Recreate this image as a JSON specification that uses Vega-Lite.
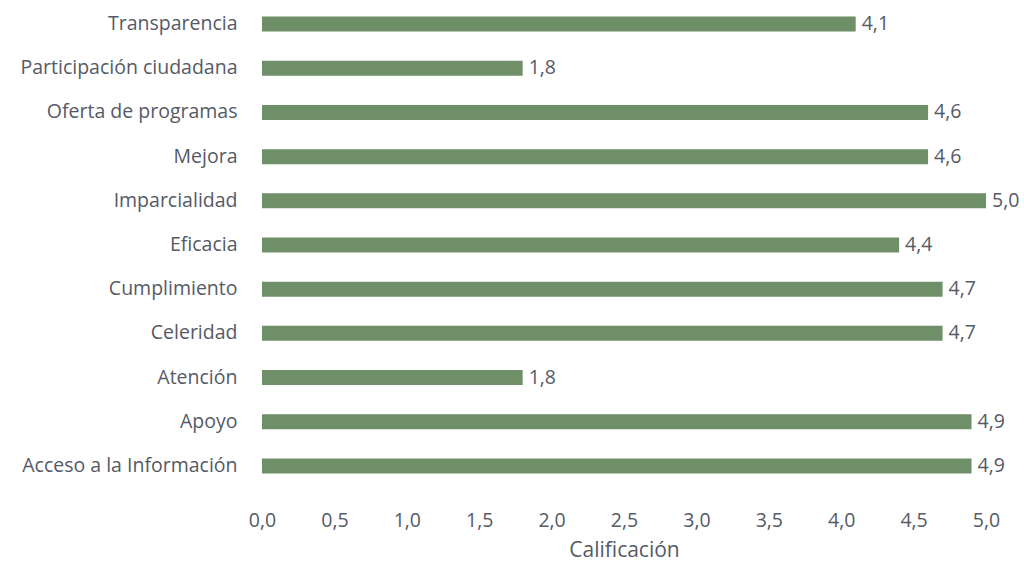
{
  "$schema": "https://vega.github.io/schema/vega-lite/v6.json",
  "width": 724,
  "height": 486,
  "autosize": "none",
  "padding": {"left": 262, "top": 2, "right": 38, "bottom": 75},
  "background": "white",
  "config": {
    "view": {"stroke": null},
    "locale": {"number": {"decimal": ",", "thousands": ".", "grouping": [3], "currency": ["", " €"]}},
    "font": "Open Sans"
  },
  "data": {
    "values": [
      {"criterio": "Transparencia", "calificacion": 4.1},
      {"criterio": "Participación ciudadana", "calificacion": 1.8},
      {"criterio": "Oferta de programas", "calificacion": 4.6},
      {"criterio": "Mejora", "calificacion": 4.6},
      {"criterio": "Imparcialidad", "calificacion": 5.0},
      {"criterio": "Eficacia", "calificacion": 4.4},
      {"criterio": "Cumplimiento", "calificacion": 4.7},
      {"criterio": "Celeridad", "calificacion": 4.7},
      {"criterio": "Atención", "calificacion": 1.8},
      {"criterio": "Apoyo", "calificacion": 4.9},
      {"criterio": "Acceso a la Información", "calificacion": 4.9}
    ]
  },
  "encoding": {
    "y": {
      "field": "criterio", "type": "nominal", "sort": null,
      "scale": {"paddingInner": 0.66, "paddingOuter": 0.33},
      "axis": {"title": null, "domain": false, "ticks": false, "grid": false, "labelPadding": 25, "labelLimit": 400, "labelFont": "Open Sans", "labelFontSize": 19.5, "labelColor": "#555a66"}
    },
    "x": {
      "field": "calificacion", "type": "quantitative",
      "scale": {"domain": [0, 5], "nice": false},
      "axis": {"title": "Calificación", "values": [0, 0.5, 1, 1.5, 2, 2.5, 3, 3.5, 4, 4.5, 5], "format": ".1f", "domain": false, "ticks": false, "grid": false, "labelPadding": 23, "labelFont": "Open Sans", "labelFontSize": 19.5, "labelColor": "#555a66", "labelFlush": false, "titleFont": "Open Sans", "titleFontSize": 21, "titleFontWeight": "normal", "titleColor": "#555a66", "titlePadding": 10}
    }
  },
  "layer": [
    {"mark": {"type": "bar", "color": "#6e8f68"}},
    {"mark": {"type": "text", "align": "left", "baseline": "middle", "dx": 6, "font": "Open Sans", "fontSize": 19.5, "color": "#555a66"},
     "encoding": {"text": {"field": "calificacion", "type": "quantitative", "format": ".1f"}}}
  ]
}
